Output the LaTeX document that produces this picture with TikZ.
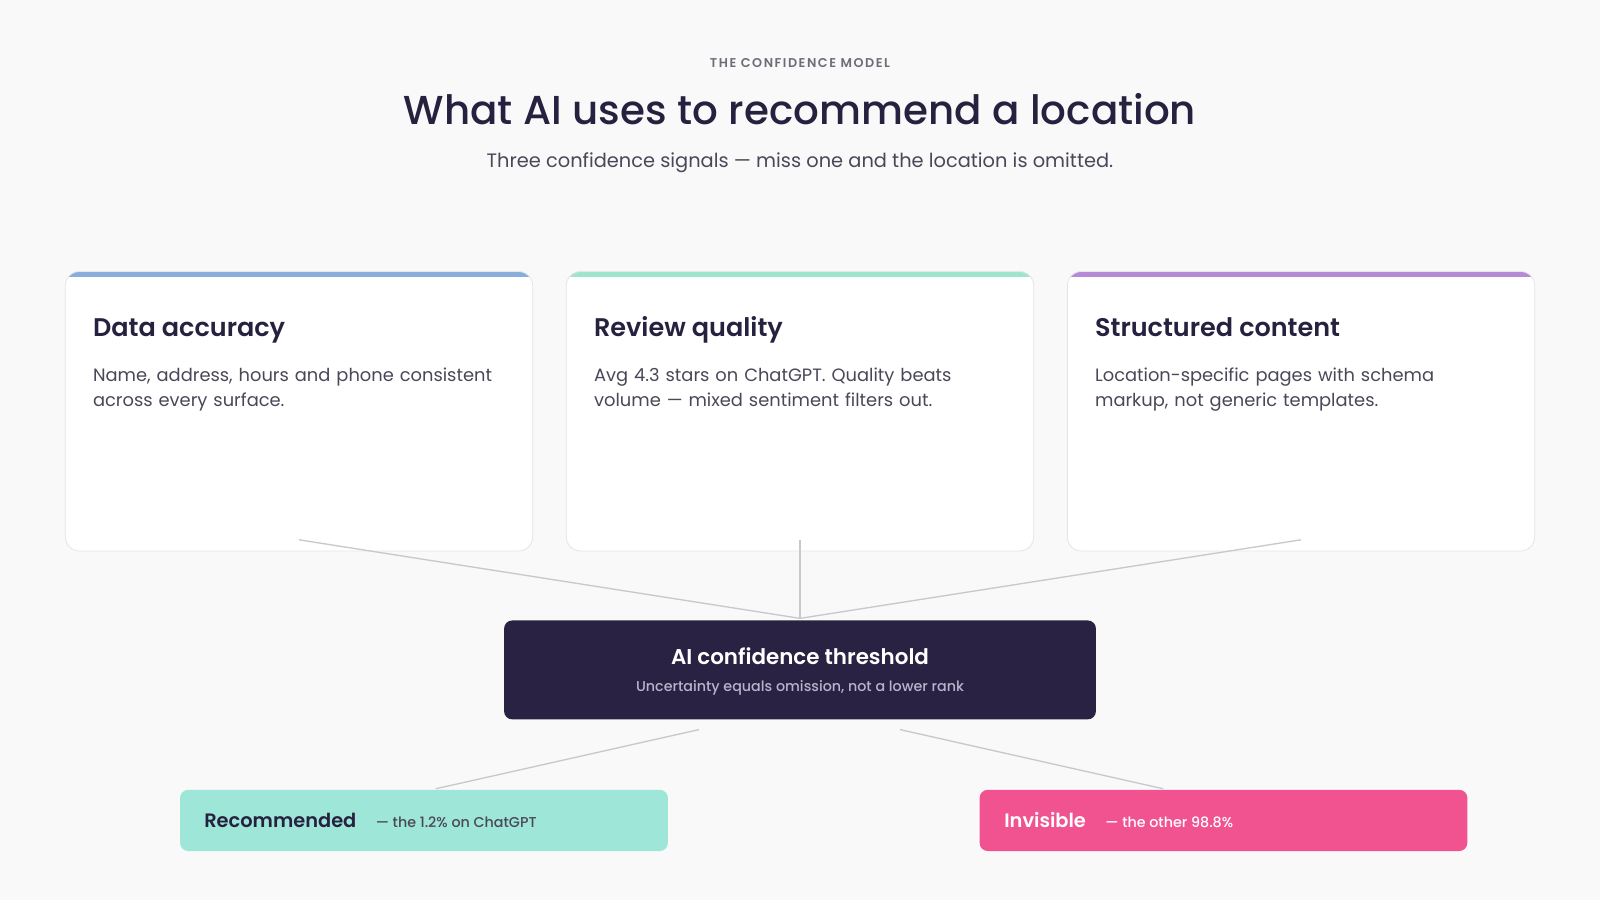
\documentclass[tikz,border=0pt]{standalone}
\usepackage{fontspec}
\setmainfont{Poppins}[BoldFont={Poppins SemiBold}]
\newfontfamily\med{Poppins Medium}
\definecolor{bg}{HTML}{F9F9FA}
\definecolor{ink}{HTML}{26213F}
\definecolor{body}{HTML}{4A4858}
\definecolor{gr}{HTML}{6E6C78}
\definecolor{cblue}{HTML}{8AAEDC}
\definecolor{cmint}{HTML}{9EE5D0}
\definecolor{cpurp}{HTML}{B58AD6}
\definecolor{dark}{HTML}{2A2242}
\definecolor{lav}{HTML}{B9B3CC}
\definecolor{rec}{HTML}{9DE6D8}
\definecolor{pink}{HTML}{F0538F}
\definecolor{edge}{HTML}{E6E6EA}
\definecolor{conn}{HTML}{C8C8CE}
\newcommand{\fs}[1]{\fontsize{#1pt}{1.42\dimexpr#1pt\relax}\selectfont}
\tikzset{
 ctitle/.style={anchor=base west,inner sep=0,text=ink,font=\fs{25}\bfseries},
 cbody/.style={anchor=north west,inner sep=0,text=body,font=\fs{17.5},align=left,text width=420},
 conn/.style={draw=conn,line width=1.3}
}
\begin{document}
\begin{tikzpicture}[x=1pt,y=-1pt]
\fill[bg] (0,0) rectangle (1568,882);
\useasboundingbox (0,0) rectangle (1568,882);
\node (kick) at (784,62) {\fs{12.5}\bfseries\color{gr}\addfontfeature{LetterSpace=12}THE CONFIDENCE MODEL};
\node (head) at (784,107) {\fs{39.6}\med\color{ink}What AI uses to recommend a location};
\node (sub) at (784,159) {\fs{19}\color{body}Three confidence signals — miss one and the location is omitted.};
% cards
\foreach \x/\c in {64/cblue,555/cmint,1046/cpurp}{
 \begin{scope}
 \clip[rounded corners=14] (\x,266) rectangle (\x+458,540);
 \fill[white] (\x,266) rectangle (\x+458,540);
 \fill[\c] (\x,266) rectangle (\x+458,271);
 \end{scope}
 \draw[edge,line width=0.8,rounded corners=14] (\x,266) rectangle (\x+458,540);
}
\node[ctitle] (ta) at (91,330) {Data accuracy};
\node[cbody] (ba) at (91,360) {\hyphenpenalty=10000 Name, address, hours and phone consistent across every surface.};
\node[ctitle] (tb) at (582,330) {Review quality};
\node[cbody] (bb) at (582,360) {\hyphenpenalty=10000 Avg 4.3 stars on ChatGPT. Quality beats\\ volume — mixed sentiment filters out.};
\node[ctitle] (tc) at (1073,330) {Structured content};
\node[cbody] (bc) at (1073,360) {\hyphenpenalty=10000 Location-specific pages with schema\\ markup, not generic templates.};
\coordinate (oa) at (293,529);
\coordinate (ob) at (784,529);
\coordinate (oc) at (1275,529);
% threshold
\node[fill=dark,rounded corners=8,minimum width=580,minimum height=97,inner sep=0] (thr) at (784,656.5) {};
\node (thrt) at (784,643) {\fs{21}\bfseries\color{white}AI confidence threshold};
\node (thrs) at (784,674) {\fs{14}\med\color{lav}Uncertainty equals omission, not a lower rank};
\coordinate (in) at (784,606);
\draw[conn] (oa) -- (in);
\draw[conn] (ob) -- (in);
\draw[conn] (oc) -- (in);
\coordinate (l1) at (685,715);
\coordinate (l2) at (882,715);
% outcomes
\node[fill=rec,rounded corners=8,minimum width=478,minimum height=60,inner sep=0] (recb) at (415.5,804) {};
\node[anchor=west,inner sep=0] (rect) at (200,804) {\fs{19}\bfseries\color{ink}Recommended\quad{\fs{14}\mdseries\med\color{body}— the 1.2\% on ChatGPT}};
\node[fill=pink,rounded corners=8,minimum width=478,minimum height=60,inner sep=0] (invb) at (1199,804) {};
\node[anchor=west,inner sep=0] (invt) at (984,804) {\fs{19}\bfseries\color{white}Invisible\quad{\fs{14}\mdseries\med\color{white}— the other 98.8\%}};
\coordinate (r1) at (427,773);
\coordinate (r2) at (1140,773);
\draw[conn] (l1) -- (r1);
\draw[conn] (l2) -- (r2);
\end{tikzpicture}
\end{document}
